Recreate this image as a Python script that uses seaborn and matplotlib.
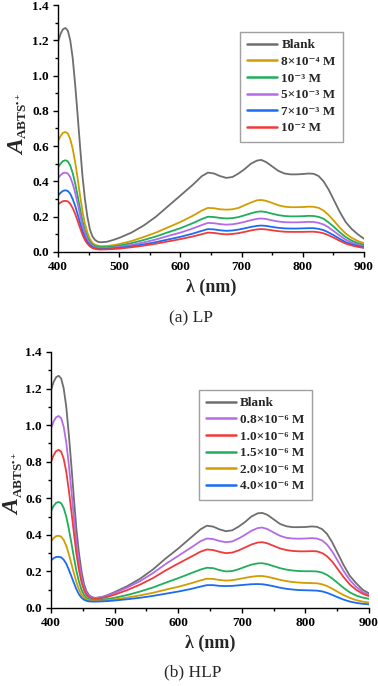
import numpy as np
import pandas as pd
import matplotlib
matplotlib.use("Agg")
import matplotlib.pyplot as plt
import seaborn as sns
from matplotlib.ticker import MultipleLocator, FormatStrFormatter

sns.set_theme(style="ticks")
plt.rcParams["font.family"] = ["Liberation Serif", "DejaVu Serif"]
plt.rcParams["mathtext.fontset"] = "custom"
plt.rcParams["mathtext.rm"] = "Liberation Serif:bold"
plt.rcParams["mathtext.bf"] = "Liberation Serif:bold"
plt.rcParams["mathtext.it"] = "Liberation Serif:italic:bold"

wl = [400, 404, 408, 412, 416, 420, 424, 428, 432, 436, 440, 444, 448, 452, 456, 460, 465, 470,
      480, 490, 500, 520, 540, 560, 580, 600, 620, 635, 645, 655, 665, 675, 685, 695, 705, 715,
      725, 732, 740, 750, 760, 770, 780, 790, 800, 810, 818, 826, 834, 842, 850, 860, 870, 880,
      890, 900]

# ---------------- (a) LP ----------------
lp_labels = ["Blank", "8×10⁻⁴ M", "10⁻³ M", "5×10⁻³ M", "7×10⁻³ M", "10⁻² M"]
lp_blank = [1.19, 1.235, 1.262, 1.27, 1.255, 1.20, 1.10, 0.95, 0.78, 0.60, 0.43, 0.30, 0.20, 0.13,
            0.09, 0.07, 0.058, 0.055, 0.058, 0.068, 0.08, 0.11, 0.15, 0.20, 0.26, 0.32, 0.38, 0.43,
            0.45, 0.445, 0.43, 0.42, 0.425, 0.445, 0.47, 0.50, 0.518, 0.522, 0.51, 0.485, 0.46,
            0.445, 0.44, 0.44, 0.442, 0.445, 0.443, 0.43, 0.40, 0.355, 0.30, 0.23, 0.17, 0.13,
            0.10, 0.075]
lp_8e4 = [0.63, 0.655, 0.675, 0.68, 0.672, 0.64, 0.585, 0.51, 0.42, 0.32, 0.23, 0.16, 0.11, 0.075,
          0.052, 0.042, 0.036, 0.033, 0.034, 0.038, 0.045, 0.062, 0.085, 0.11, 0.14, 0.17, 0.205,
          0.235, 0.25, 0.248, 0.242, 0.24, 0.242, 0.25, 0.265, 0.28, 0.293, 0.295, 0.29, 0.278,
          0.265, 0.257, 0.254, 0.254, 0.255, 0.257, 0.256, 0.25, 0.235, 0.21, 0.18, 0.14, 0.105,
          0.08, 0.062, 0.05]
lp_1e3 = [0.48, 0.50, 0.515, 0.52, 0.514, 0.49, 0.447, 0.39, 0.32, 0.245, 0.175, 0.122, 0.084,
          0.058, 0.042, 0.034, 0.029, 0.027, 0.028, 0.031, 0.036, 0.05, 0.068, 0.088, 0.112, 0.135,
          0.163, 0.187, 0.20, 0.198, 0.193, 0.19, 0.192, 0.198, 0.208, 0.219, 0.228, 0.23, 0.226,
          0.217, 0.209, 0.204, 0.202, 0.202, 0.203, 0.205, 0.204, 0.199, 0.188, 0.168, 0.145, 0.113,
          0.085, 0.064, 0.05, 0.04]
lp_5e3 = [0.42, 0.435, 0.447, 0.45, 0.445, 0.424, 0.387, 0.337, 0.277, 0.212, 0.151, 0.105, 0.072,
          0.049, 0.035, 0.027, 0.023, 0.021, 0.022, 0.025, 0.029, 0.04, 0.054, 0.071, 0.091, 0.11,
          0.133, 0.153, 0.165, 0.163, 0.158, 0.155, 0.157, 0.163, 0.171, 0.18, 0.188, 0.19, 0.187,
          0.179, 0.173, 0.169, 0.168, 0.168, 0.169, 0.171, 0.17, 0.165, 0.156, 0.14, 0.12, 0.094,
          0.07, 0.053, 0.041, 0.033]
lp_7e3 = [0.32, 0.335, 0.346, 0.35, 0.346, 0.33, 0.30, 0.262, 0.215, 0.165, 0.118, 0.082, 0.056,
          0.039, 0.028, 0.021, 0.018, 0.017, 0.018, 0.02, 0.023, 0.032, 0.043, 0.056, 0.071, 0.086,
          0.104, 0.12, 0.13, 0.128, 0.123, 0.12, 0.122, 0.127, 0.134, 0.142, 0.148, 0.15, 0.148,
          0.142, 0.137, 0.134, 0.133, 0.133, 0.134, 0.135, 0.135, 0.131, 0.124, 0.111, 0.096, 0.075,
          0.056, 0.043, 0.034, 0.027]
lp_1e2 = [0.27, 0.28, 0.288, 0.29, 0.287, 0.273, 0.249, 0.217, 0.178, 0.137, 0.098, 0.068, 0.047,
          0.032, 0.023, 0.018, 0.015, 0.014, 0.015, 0.017, 0.019, 0.027, 0.036, 0.047, 0.06, 0.073,
          0.088, 0.101, 0.11, 0.108, 0.103, 0.10, 0.102, 0.107, 0.114, 0.122, 0.128, 0.13, 0.128,
          0.123, 0.118, 0.115, 0.114, 0.114, 0.114, 0.115, 0.115, 0.112, 0.106, 0.095, 0.082, 0.064,
          0.048, 0.037, 0.029, 0.023]
lp_series = [lp_blank, lp_8e4, lp_1e3, lp_5e3, lp_7e3, lp_1e2]
lp_colors = ["#6e6e6e", "#d19d00", "#1fae5a", "#b36be8", "#1a6cf5", "#f23a3a"]

# ---------------- (b) HLP ----------------
hlp_labels = ["Blank", "0.8×10⁻⁶ M", "1.0×10⁻⁶ M", "1.5×10⁻⁶ M", "2.0×10⁻⁶ M", "4.0×10⁻⁶ M"]
hlp_blank = [1.19, 1.235, 1.262, 1.27, 1.255, 1.20, 1.10, 0.95, 0.78, 0.60, 0.43, 0.30, 0.20, 0.13,
             0.09, 0.07, 0.058, 0.055, 0.06, 0.072, 0.087, 0.12, 0.16, 0.21, 0.27, 0.325, 0.385,
             0.43, 0.45, 0.445, 0.43, 0.42, 0.425, 0.445, 0.47, 0.50, 0.518, 0.52, 0.51, 0.485,
             0.46, 0.447, 0.442, 0.442, 0.443, 0.446, 0.444, 0.432, 0.405, 0.36, 0.305, 0.235,
             0.175, 0.135, 0.10, 0.08]
hlp_08 = [0.98, 1.02, 1.043, 1.05, 1.038, 0.99, 0.905, 0.785, 0.645, 0.495, 0.355, 0.25, 0.167,
          0.112, 0.08, 0.065, 0.057, 0.055, 0.059, 0.069, 0.082, 0.112, 0.147, 0.19, 0.24, 0.285,
          0.33, 0.365, 0.38, 0.377, 0.366, 0.36, 0.364, 0.38, 0.40, 0.422, 0.437, 0.44, 0.432,
          0.413, 0.395, 0.384, 0.38, 0.379, 0.38, 0.382, 0.38, 0.37, 0.347, 0.31, 0.263, 0.203,
          0.152, 0.115, 0.088, 0.07]
hlp_10 = [0.80, 0.835, 0.858, 0.865, 0.855, 0.815, 0.745, 0.645, 0.53, 0.41, 0.295, 0.207, 0.14,
          0.096, 0.07, 0.058, 0.052, 0.05, 0.054, 0.062, 0.073, 0.098, 0.128, 0.163, 0.205, 0.243,
          0.28, 0.308, 0.32, 0.317, 0.307, 0.30, 0.303, 0.315, 0.331, 0.347, 0.358, 0.36, 0.354,
          0.34, 0.326, 0.317, 0.312, 0.31, 0.31, 0.311, 0.31, 0.301, 0.283, 0.254, 0.217, 0.169,
          0.128, 0.099, 0.078, 0.065]
hlp_15 = [0.53, 0.558, 0.575, 0.58, 0.573, 0.546, 0.50, 0.433, 0.357, 0.277, 0.202, 0.143, 0.099,
          0.071, 0.055, 0.048, 0.045, 0.044, 0.046, 0.05, 0.056, 0.071, 0.09, 0.112, 0.138, 0.163,
          0.19, 0.21, 0.22, 0.218, 0.207, 0.20, 0.202, 0.212, 0.225, 0.237, 0.244, 0.245, 0.24,
          0.229, 0.218, 0.21, 0.205, 0.202, 0.201, 0.201, 0.20, 0.194, 0.181, 0.162, 0.139, 0.11,
          0.085, 0.068, 0.057, 0.05]
hlp_20 = [0.365, 0.382, 0.393, 0.395, 0.39, 0.372, 0.34, 0.295, 0.243, 0.19, 0.14, 0.101, 0.073,
          0.056, 0.046, 0.042, 0.04, 0.039, 0.04, 0.043, 0.047, 0.057, 0.069, 0.083, 0.10, 0.116,
          0.135, 0.151, 0.16, 0.159, 0.153, 0.15, 0.152, 0.158, 0.165, 0.171, 0.175, 0.175, 0.171,
          0.163, 0.154, 0.147, 0.142, 0.139, 0.137, 0.136, 0.135, 0.13, 0.12, 0.106, 0.09, 0.071,
          0.055, 0.043, 0.035, 0.03]
hlp_40 = [0.26, 0.272, 0.279, 0.28, 0.277, 0.264, 0.242, 0.21, 0.174, 0.137, 0.102, 0.075, 0.056,
          0.045, 0.039, 0.036, 0.035, 0.035, 0.036, 0.038, 0.041, 0.048, 0.056, 0.066, 0.078, 0.09,
          0.104, 0.117, 0.125, 0.125, 0.121, 0.12, 0.121, 0.124, 0.127, 0.13, 0.131, 0.13, 0.126,
          0.119, 0.111, 0.105, 0.101, 0.098, 0.097, 0.096, 0.095, 0.091, 0.083, 0.072, 0.06, 0.046,
          0.035, 0.028, 0.023, 0.02]
hlp_series = [hlp_blank, hlp_08, hlp_10, hlp_15, hlp_20, hlp_40]
hlp_colors = ["#6e6e6e", "#b36be8", "#f23a3a", "#1fae5a", "#d19d00", "#1a6cf5"]


def make_df(labels, series):
    rows = []
    for lab, vals in zip(labels, series):
        for w, v in zip(wl, vals):
            rows.append((w, v, lab))
    return pd.DataFrame(rows, columns=["wl", "A", "sample"])


W, H = 378, 686
fig = plt.figure(figsize=(W / 100, H / 100), dpi=100)
ax1 = fig.add_axes([58 / W, 1 - 252 / H, 306 / W, 247 / H])
ax2 = fig.add_axes([51 / W, 1 - 608 / H, 318 / W, 256 / H])

panels = [
    (ax1, lp_labels, lp_series, lp_colors, (0.931, 0.891), (19, 147), (23, 116)),
    (ax2, hlp_labels, hlp_series, hlp_colors, (0.82, 0.852), (14, 507), (19, 475)),
]

for ax, labels, series, colors, leg_anchor, a_pos, sub_pos in panels:
    df = make_df(labels, series)
    sns.lineplot(data=df, x="wl", y="A", hue="sample", hue_order=labels,
                 palette=colors, ax=ax, linewidth=1.3, sort=True, estimator=None)
    ax.set_xlim(400, 900)
    ax.set_ylim(0, 1.4)
    ax.xaxis.set_major_locator(MultipleLocator(100))
    ax.xaxis.set_minor_locator(MultipleLocator(50))
    ax.yaxis.set_major_locator(MultipleLocator(0.2))
    ax.yaxis.set_minor_locator(MultipleLocator(0.1))
    ax.yaxis.set_major_formatter(FormatStrFormatter("%.1f"))
    sns.despine(ax=ax)
    for sp in ["left", "bottom"]:
        ax.spines[sp].set_color("black")
        ax.spines[sp].set_linewidth(1.0)
    ax.tick_params(which="major", direction="out", length=3.5, width=1, colors="black",
                   labelsize=9.5)
    ax.tick_params(axis="y", which="major", pad=3)
    ax.tick_params(axis="x", which="major", pad=3)
    ax.tick_params(which="minor", direction="out", length=2, width=1, colors="black")
    for lbl in ax.get_xticklabels() + ax.get_yticklabels():
        lbl.set_fontweight("bold")
    ax.set_xlabel("λ (nm)", fontsize=13, fontweight="bold", labelpad=4)
    ax.set_ylabel("")
    # y label: large italic A with small bold subscript ABTS•+
    fig.text(a_pos[0] / W, 1 - a_pos[1] / H, "A", rotation=90, ha="center", va="center",
             fontsize=17, fontstyle="italic", fontweight="bold")
    fig.text(sub_pos[0] / W, 1 - sub_pos[1] / H, r"ABTS$^{\mathbf{•+}}$", rotation=90,
             ha="center", va="center", fontsize=9.5, fontweight="bold")
    leg = ax.legend(loc="upper right", bbox_to_anchor=leg_anchor, frameon=True,
                    fancybox=False, edgecolor="#a0a0a0", framealpha=1,
                    prop={"weight": "bold", "size": 9.5}, handlelength=2.3,
                    handletextpad=0.3, labelspacing=0.33, borderpad=0.55,
                    borderaxespad=0.0)
    leg.get_frame().set_linewidth(1.0)
    for line in leg.get_lines():
        line.set_linewidth(1.8)

fig.text(191 / W, 1 - 318 / H, "(a) LP", ha="center", va="center", fontsize=12.5)
fig.text(193 / W, 1 - 672 / H, "(b) HLP", ha="center", va="center", fontsize=12.5)

fig.savefig("out.png", dpi=100)
